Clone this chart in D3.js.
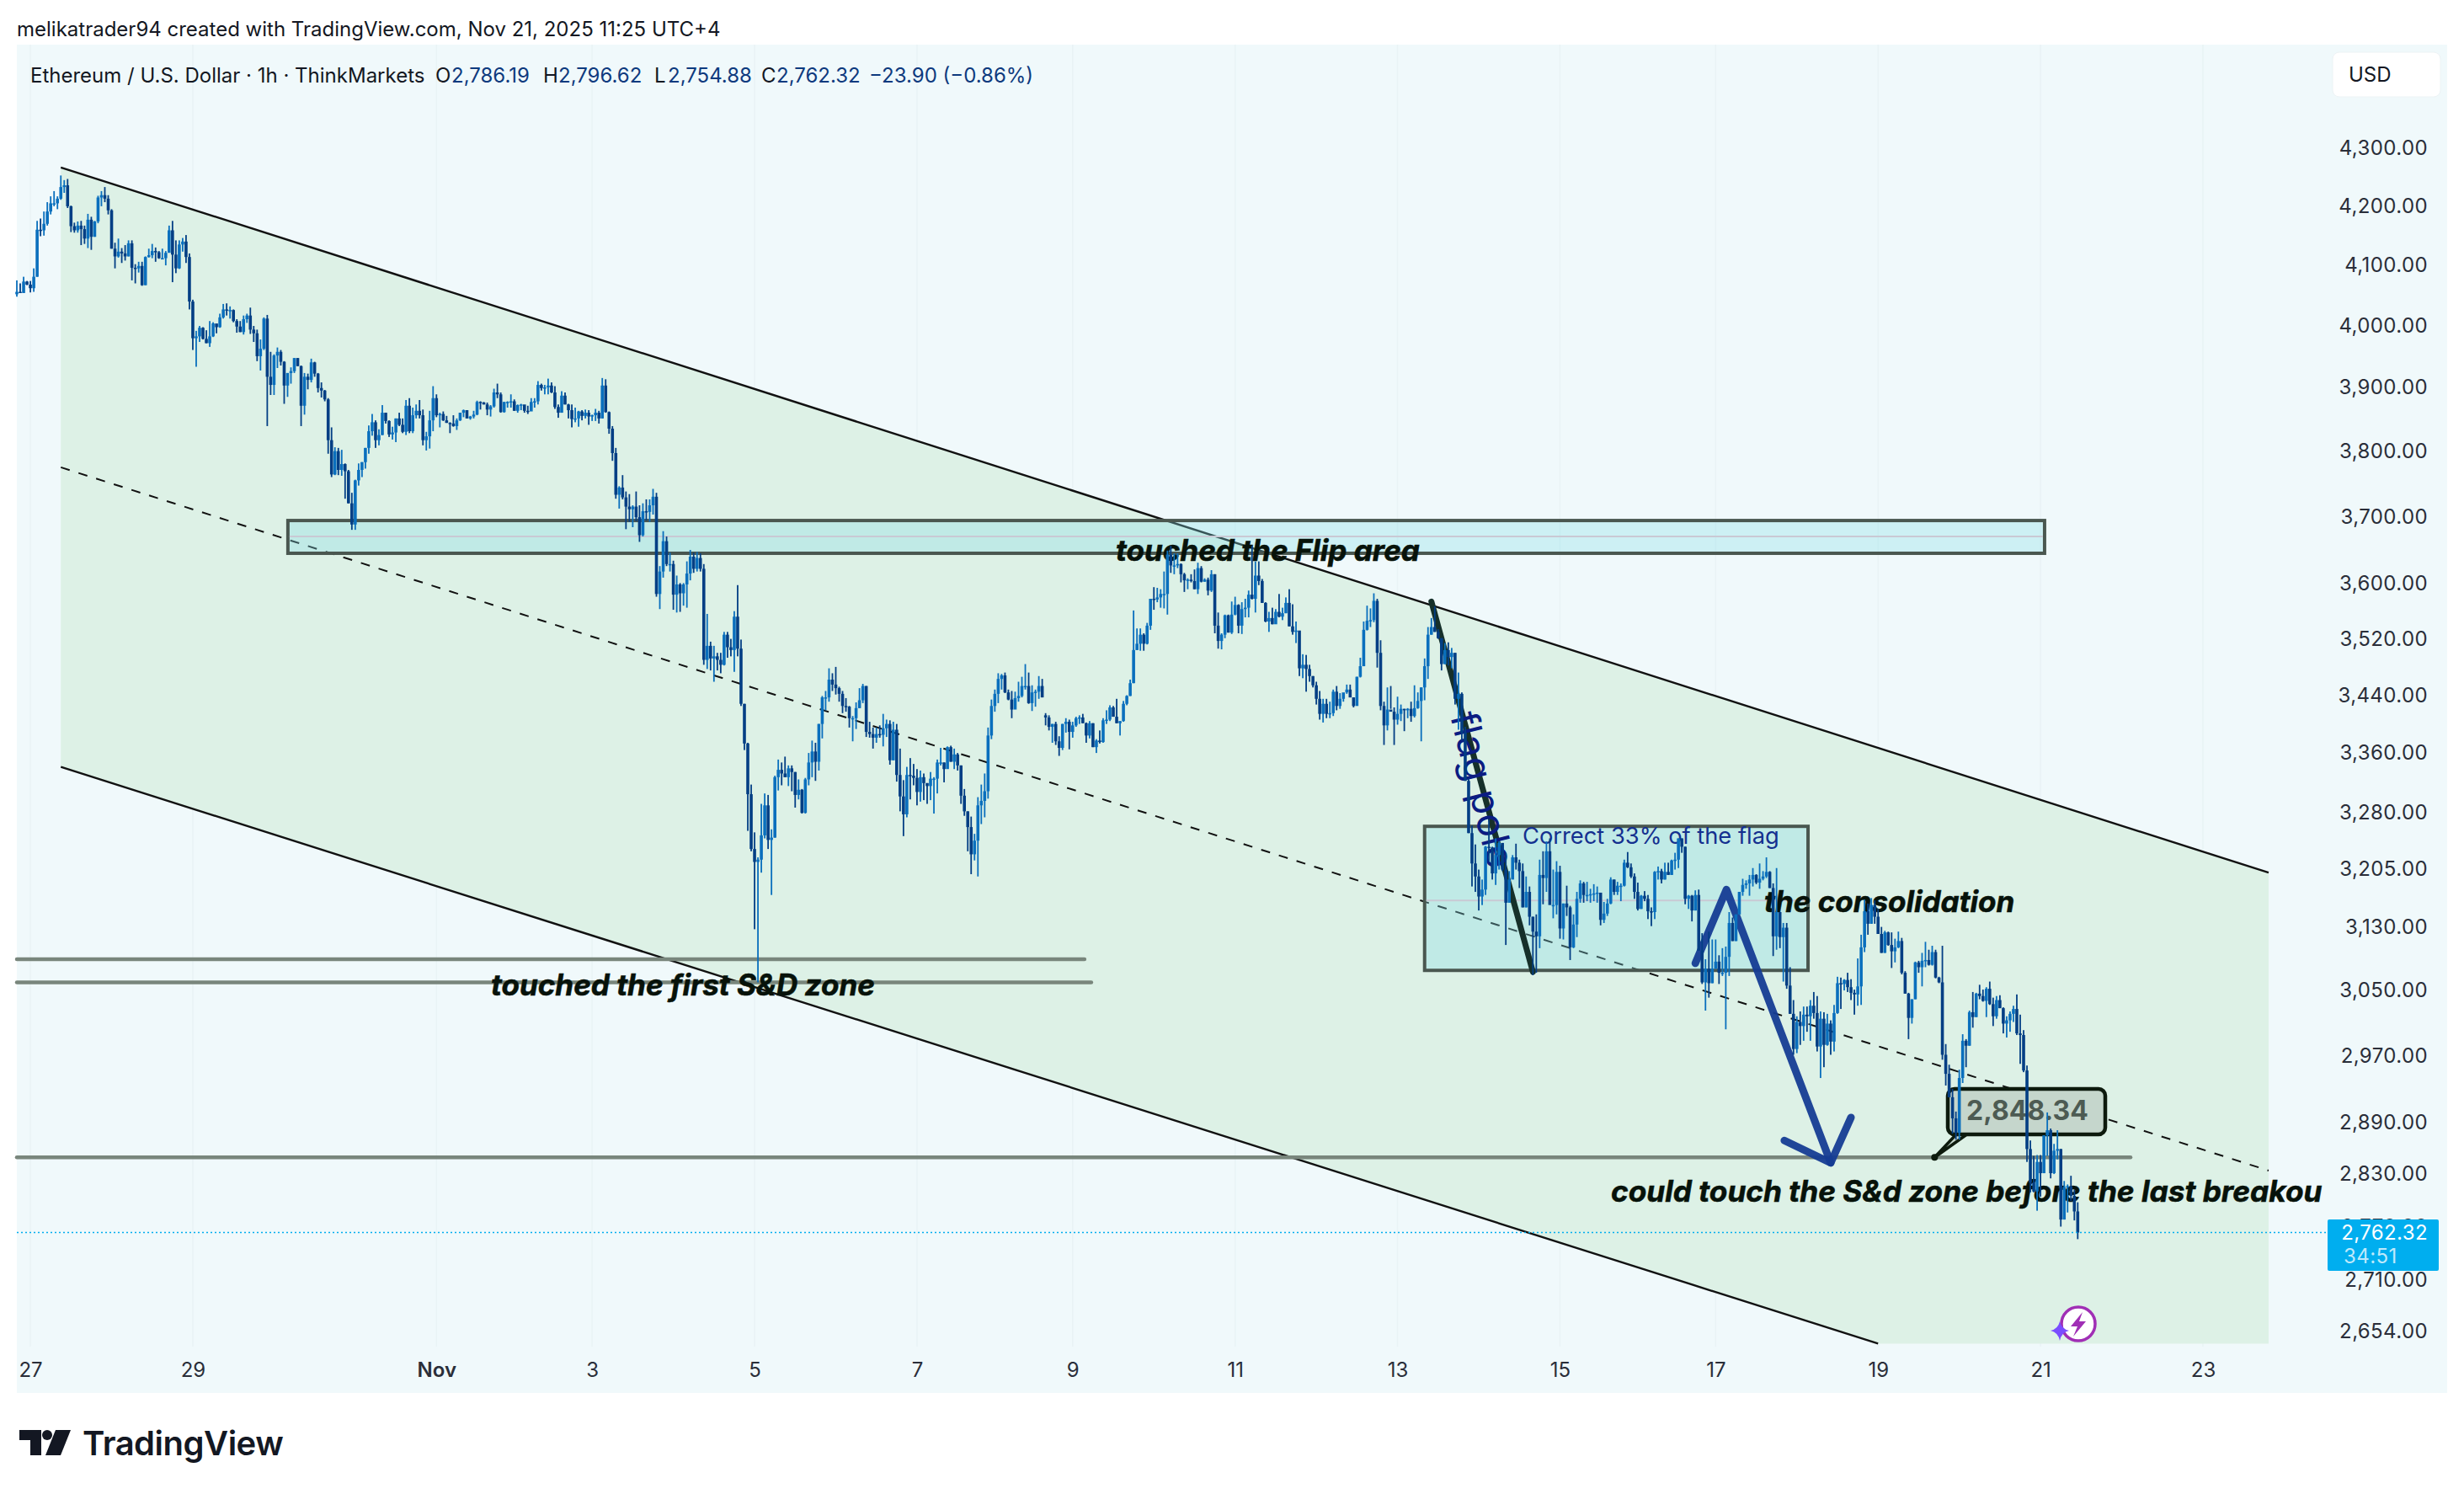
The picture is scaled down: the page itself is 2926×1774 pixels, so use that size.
<!DOCTYPE html>
<html>
<head>
<meta charset="utf-8">
<script src="https://cdn.jsdelivr.net/npm/d3@7"></script>
<style>
html, body { margin: 0; padding: 0; background: #fff; }
svg { display: block; }
text { font-family: Inter, "Noto Sans", sans-serif; }
</style>
</head>
<body>
<svg id="chart" width="2926" height="1774"></svg>
<script>
// ETHUSD 1h, values
const firstOpen = 4050;
const gapOpens = { 304: 3411 }; // weekend gap

const closes = [
4054,4052,4071,4066,4060,4079,4158,4157,4168,4189,4203,4203,4211,4231,4234,4198,4164,4157,4165,4159,
4143,4175,4146,4172,4213,4217,4211,4191,4126,4113,4121,4118,4113,4135,4094,4093,4097,4065,4112,4115,
4122,4120,4110,4110,4119,4157,4116,4093,4133,4138,4112,4038,3978,3981,3995,3977,3970,3981,4002,3996,
4012,4025,4024,4024,4006,3997,3988,4009,4015,3992,3986,3949,3961,4010,3916,3903,3950,3956,3940,3902,
3922,3925,3946,3933,3870,3916,3911,3939,3921,3898,3894,3880,3816,3763,3799,3770,3779,3768,3719,3687,
3754,3770,3782,3804,3830,3844,3816,3824,3859,3846,3825,3828,3850,3840,3829,3870,3830,3855,3862,3855,
3816,3822,3847,3882,3855,3857,3847,3843,3842,3838,3847,3859,3863,3850,3853,3856,3876,3875,3872,3864,
3869,3891,3888,3860,3876,3876,3877,3862,3871,3872,3862,3861,3876,3877,3903,3898,3899,3902,3891,3868,
3859,3886,3872,3863,3849,3850,3861,3854,3859,3853,3855,3859,3850,3902,3860,3834,3796,3732,3743,3728,
3714,3710,3714,3698,3671,3707,3706,3716,3729,3584,3617,3662,3628,3628,3583,3598,3585,3598,3614,3639,
3621,3637,3621,3489,3509,3491,3494,3489,3482,3525,3507,3503,3551,3505,3427,3372,3303,3230,3213,3216,
3248,3288,3242,3245,3326,3336,3331,3326,3338,3333,3302,3309,3278,3323,3346,3361,3347,3399,3436,3436,
3461,3454,3449,3441,3424,3423,3407,3407,3421,3432,3452,3388,3385,3380,3385,3384,3393,3399,3349,3391,
3329,3300,3276,3329,3328,3325,3306,3326,3318,3314,3324,3324,3346,3346,3337,3367,3347,3357,3342,3301,
3280,3259,3223,3241,3288,3294,3307,3383,3424,3441,3462,3467,3443,3433,3419,3435,3438,3452,3452,3428,
3443,3444,3452,3436,3408,3395,3399,3375,3366,3399,3402,3388,3397,3407,3408,3400,3383,3400,3367,3376,
3374,3404,3405,3422,3409,3400,3403,3427,3438,3456,3503,3512,3525,3512,3538,3577,3576,3579,3584,3584,
3642,3626,3626,3628,3613,3604,3605,3603,3591,3622,3602,3605,3589,3613,3538,3516,3525,3553,3528,3554,
3568,3538,3562,3564,3583,3577,3611,3603,3571,3544,3549,3540,3558,3551,3556,3571,3537,3529,3531,3477,
3482,3476,3466,3453,3434,3413,3427,3413,3414,3444,3424,3434,3443,3447,3436,3424,3465,3480,3532,3545,
3546,3574,3499,3424,3397,3419,3416,3405,3413,3420,3418,3420,3410,3421,3431,3450,3480,3525,3536,3529,
3520,3483,3503,3493,3499,3434,3441,3387,3321,3251,3211,3194,3168,3177,3233,3232,3198,3222,3238,3203,
3160,3190,3219,3212,3201,3154,3174,3142,3123,3117,3196,3192,3227,3157,3157,3200,3127,3159,3154,3103,
3132,3165,3185,3170,3170,3171,3172,3173,3138,3146,3159,3190,3174,3182,3182,3212,3206,3194,3174,3152,
3169,3165,3149,3148,3200,3201,3190,3200,3196,3215,3216,3244,3233,3165,3169,3150,3170,3099,3059,3076,
3058,3076,3085,3071,3071,3091,3134,3111,3145,3174,3183,3185,3190,3196,3186,3191,3194,3200,3179,3117,
3148,3116,3128,3055,3020,2977,3010,3005,3019,3017,3030,3021,2980,3014,2982,3008,2986,3021,3058,3057,
3062,3053,3046,3044,3054,3103,3149,3133,3157,3142,3120,3096,3122,3106,3098,3103,3111,3071,3045,3015,
3038,3084,3078,3086,3087,3081,3097,3065,3059,2970,2947,2919,2894,2877,2942,2987,2981,3022,3016,3045,
3042,3036,3051,3032,3017,3037,3027,3008,3012,3020,3026,2996,2994,2951,2858,2819,2809,2843,2830,2874,
2880,2830,2856,2858,2777,2814,2815,2804,2786.19,2762.32
];

const highs = [
4073,4068,4079,4072,4072,4093,4173,4177,4189,4205,4215,4224,4215,4251,4243,4245,4199,4170,4172,4173,
4165,4185,4180,4173,4216,4224,4231,4217,4193,4136,4143,4127,4132,4140,4140,4100,4104,4104,4113,4126,
4134,4128,4122,4126,4122,4165,4173,4140,4140,4144,4149,4118,4041,3990,3998,3996,3991,4006,4004,4001,
4018,4034,4035,4030,4025,4009,4006,4015,4018,4028,3998,3992,3976,4012,4016,3956,3952,3963,3959,3941,
3922,3931,3946,3946,3934,3922,3921,3945,3940,3922,3907,3895,3882,3836,3805,3804,3801,3780,3770,3735,
3755,3780,3782,3804,3839,3857,3847,3833,3871,3859,3847,3837,3850,3859,3850,3879,3882,3867,3872,3879,
3864,3829,3862,3901,3888,3859,3861,3854,3844,3855,3850,3859,3864,3863,3854,3862,3878,3877,3876,3875,
3871,3897,3905,3891,3876,3877,3888,3880,3872,3873,3870,3870,3882,3882,3909,3905,3903,3913,3907,3901,
3872,3893,3891,3873,3872,3867,3862,3863,3864,3863,3856,3865,3862,3914,3912,3861,3838,3804,3745,3762,
3737,3733,3716,3737,3716,3719,3725,3725,3741,3735,3625,3677,3669,3645,3633,3611,3600,3600,3632,3649,
3645,3646,3644,3628,3555,3515,3509,3499,3499,3529,3529,3519,3559,3597,3518,3427,3373,3316,3252,3219,
3290,3304,3302,3256,3328,3350,3346,3354,3342,3342,3333,3323,3310,3325,3359,3376,3373,3399,3438,3445,
3477,3470,3479,3451,3445,3435,3424,3410,3429,3449,3455,3452,3402,3394,3394,3397,3413,3405,3404,3402,
3399,3365,3322,3340,3352,3344,3337,3335,3331,3318,3333,3326,3350,3366,3346,3368,3369,3365,3359,3342,
3310,3280,3273,3250,3299,3316,3331,3394,3433,3447,3470,3469,3471,3447,3445,3444,3458,3465,3483,3471,
3453,3447,3466,3462,3414,3411,3399,3402,3382,3399,3407,3405,3402,3409,3411,3413,3401,3403,3400,3378,
3390,3407,3418,3425,3424,3434,3403,3431,3439,3461,3560,3534,3534,3527,3542,3577,3594,3593,3591,3617,
3648,3655,3644,3644,3629,3615,3607,3613,3620,3630,3625,3607,3608,3619,3613,3557,3527,3554,3554,3573,
3580,3569,3572,3577,3589,3655,3632,3632,3606,3572,3558,3564,3562,3584,3564,3579,3591,3569,3544,3527,
3497,3496,3482,3466,3458,3445,3434,3434,3430,3447,3452,3442,3442,3454,3454,3436,3465,3492,3544,3567,
3563,3585,3577,3517,3430,3450,3452,3422,3437,3426,3420,3421,3430,3453,3443,3450,3491,3536,3549,3566,
3533,3520,3513,3514,3506,3499,3471,3443,3395,3324,3261,3236,3203,3190,3234,3269,3233,3244,3240,3236,
3225,3201,3222,3237,3216,3211,3194,3181,3142,3145,3216,3227,3240,3244,3203,3214,3208,3159,3182,3156,
3145,3174,3189,3187,3187,3178,3184,3181,3172,3161,3165,3193,3190,3187,3185,3216,3226,3211,3198,3186,
3170,3175,3170,3154,3201,3207,3204,3212,3212,3216,3225,3244,3244,3233,3170,3170,3176,3177,3121,3088,
3123,3113,3113,3093,3102,3104,3148,3141,3145,3174,3191,3189,3196,3205,3197,3211,3201,3219,3201,3185,
3205,3148,3134,3134,3078,3037,3017,3023,3029,3029,3037,3047,3042,3023,3022,3020,3012,3031,3066,3065,
3063,3071,3063,3050,3089,3119,3164,3159,3166,3163,3152,3129,3124,3123,3122,3114,3123,3115,3073,3046,
3038,3085,3086,3096,3110,3100,3105,3100,3066,3105,2983,2958,2929,2902,2952,2995,2989,3024,3047,3046,
3056,3050,3053,3060,3040,3042,3043,3028,3017,3023,3030,3044,3019,3000,2957,2868,2850,2851,2851,2874,
2901,2882,2864,2880,2858,2821,2817,2827,2811,2796.62
];

const lows = [
4046,4052,4058,4065,4053,4054,4079,4147,4148,4165,4184,4198,4193,4209,4221,4195,4154,4153,4153,4132,
4134,4127,4124,4146,4169,4198,4205,4184,4126,4093,4111,4102,4106,4113,4073,4068,4086,4064,4065,4111,
4110,4104,4109,4109,4098,4120,4070,4085,4092,4121,4102,4025,3959,3932,3972,3976,3970,3964,3980,3986,
3995,4010,4015,4010,4004,3987,3988,3984,4003,3985,3972,3941,3926,3959,3838,3887,3887,3930,3934,3873,
3884,3905,3922,3933,3838,3856,3896,3907,3916,3891,3883,3877,3795,3759,3762,3762,3761,3726,3719,3679,
3679,3746,3759,3772,3795,3823,3804,3808,3824,3842,3821,3817,3813,3838,3827,3824,3827,3827,3850,3850,
3808,3800,3803,3830,3852,3836,3846,3843,3827,3837,3832,3846,3852,3850,3848,3850,3855,3864,3872,3855,
3853,3867,3882,3859,3859,3867,3867,3862,3859,3863,3859,3857,3862,3867,3872,3894,3888,3888,3890,3865,
3851,3859,3872,3850,3836,3844,3837,3847,3850,3840,3846,3846,3842,3850,3859,3826,3784,3726,3711,3725,
3680,3691,3683,3692,3661,3669,3693,3691,3702,3580,3562,3608,3625,3617,3561,3557,3558,3567,3564,3604,
3615,3617,3617,3482,3476,3474,3458,3474,3470,3481,3492,3494,3472,3494,3424,3363,3254,3227,3126,3059,
3199,3244,3230,3170,3245,3308,3315,3326,3314,3307,3285,3296,3277,3277,3315,3326,3321,3335,3379,3418,
3430,3445,3440,3430,3414,3416,3394,3375,3392,3421,3428,3381,3380,3365,3373,3380,3368,3381,3343,3349,
3320,3280,3247,3272,3296,3315,3288,3293,3295,3290,3295,3277,3304,3342,3319,3338,3347,3337,3335,3290,
3274,3227,3197,3215,3194,3263,3272,3297,3378,3416,3428,3447,3442,3432,3407,3420,3430,3436,3447,3427,
3417,3423,3434,3436,3397,3390,3373,3370,3355,3363,3387,3364,3380,3395,3399,3400,3373,3379,3367,3359,
3372,3373,3399,3403,3409,3400,3383,3402,3425,3438,3456,3503,3502,3502,3511,3532,3561,3572,3564,3563,
3554,3615,3613,3622,3601,3587,3591,3601,3591,3584,3601,3602,3582,3587,3527,3505,3504,3520,3528,3526,
3553,3527,3526,3550,3550,3576,3557,3597,3571,3543,3529,3540,3541,3550,3546,3556,3537,3525,3513,3466,
3463,3444,3458,3450,3426,3405,3401,3407,3407,3410,3418,3420,3430,3441,3436,3422,3426,3464,3480,3531,
3536,3543,3478,3418,3370,3390,3420,3370,3398,3403,3389,3407,3402,3408,3420,3375,3432,3462,3525,3529,
3519,3474,3483,3481,3477,3426,3391,3376,3321,3251,3181,3174,3150,3157,3170,3214,3190,3183,3203,3201,
3106,3160,3192,3203,3179,3154,3154,3131,3068,3071,3102,3158,3174,3160,3140,3145,3114,3113,3143,3087,
3102,3116,3160,3160,3162,3160,3162,3160,3131,3134,3143,3158,3170,3170,3162,3181,3205,3192,3165,3150,
3152,3162,3139,3130,3139,3190,3185,3190,3196,3196,3203,3205,3225,3158,3152,3136,3150,3099,3057,3024,
3040,3058,3076,3057,3067,3001,3067,3111,3111,3145,3169,3178,3169,3181,3184,3178,3189,3192,3179,3092,
3100,3102,3060,3051,3020,2970,2972,2982,2987,2998,2987,3014,2974,2942,2955,2981,2970,2974,3020,3026,
3049,3047,3037,3019,3030,3031,3097,3119,3133,3133,3120,3096,3096,3105,3077,3084,3102,3069,3045,2989,
3008,3038,3071,3054,3078,3080,3080,3064,3058,2964,2933,2919,2876,2869,2869,2936,2955,2981,3003,3016,
3038,3035,3016,3031,3005,3014,3027,2996,2991,2998,3010,2994,2959,2949,2843,2808,2808,2787,2803,2830,
2850,2824,2829,2846,2769,2777,2785,2798,2776,2754.88
];

// axis ticks
const priceTicks = [4300,4200,4100,4000,3900,3800,3700,3600,3520,3440,3360,3280,3205,3130,3050,2970,2890,2830,2770,2710,2654];
const dayTicks = [4,52,124,170,218,266,312,360,408,456,502,550,598,646];
const dayLabels = ['27','29','Nov','3','5','7','9','11','13','15','17','19','21','23'];

// drawings, [bar index, price]
const channelTop = [[13,4265],[665.4,3199]];
const channelMid = [[13,3774],[665.4,2833]];
const channelLow = [[13,3340],[550,2640]];
const channelFill = [[13,4265],[665.4,3199],[665.4,2640],[550,2640],[13,3340]];
const zoneBoxes = [
  { from: 80.1, to: 599.2, top: 3693, bottom: 3644, mid: 3669 },
  { from: 416, to: 529.3, top: 3260, bottom: 3074, mid: 3163 }
];
const levels = [[0,315.5,3088],[0,317.5,3059],[0,624.6,2848.34]];
const flagPole = [[418,3573],[448,3072]];
const arrowPath = [[496,3083],[505.2,3177],[536,2842]];
const arrowHead = [[522.3,2868],[536,2842],[542,2895]];

const lastPrice = 2762.32;

const svg = d3.select('#chart');
const paneLeft = 20, paneRight = 2906, paneTop = 53, paneBottom = 1654;

const x = d3.scaleLinear().domain([0, 646]).range([20, 2616]);
const y = d3.scaleLog().domain([4300, 2654]).range([175, 1580]);
const line = d3.line().x(d => x(d[0])).y(d => y(d[1]));

svg.append('rect').attr('x', paneLeft).attr('y', paneTop)
  .attr('width', paneRight - paneLeft).attr('height', paneBottom - paneTop).attr('fill', '#f0f9fb');

// faint day grid
svg.append('g').selectAll('line').data(dayTicks).join('line')
  .attr('x1', d => x(d)).attr('x2', d => x(d))
  .attr('y1', paneTop).attr('y2', 1599)
  .attr('stroke', '#e9f3f5').attr('stroke-width', 1.5);

// channel
svg.append('path').attr('d', line(channelFill) + 'Z').attr('fill', '#ddf1e6');
svg.append('path').attr('d', line(channelTop)).attr('stroke', '#111').attr('stroke-width', 2.4).attr('fill', 'none');
svg.append('path').attr('d', line(channelLow)).attr('stroke', '#111').attr('stroke-width', 2.4).attr('fill', 'none');
svg.append('path').attr('d', line(channelMid)).attr('stroke', '#111').attr('stroke-width', 2)
  .attr('stroke-dasharray', '11 11').attr('fill', 'none');

// support levels
svg.append('g').selectAll('line').data(levels).join('line')
  .attr('x1', d => x(d[0])).attr('x2', d => x(d[1]))
  .attr('y1', d => y(d[2])).attr('y2', d => y(d[2]))
  .attr('stroke', '#79867c').attr('stroke-width', 4.5).attr('stroke-linecap', 'round');

// boxes
const boxes = svg.append('g').selectAll('g').data(zoneBoxes).join('g');
boxes.append('rect')
  .attr('x', d => x(d.from)).attr('width', d => x(d.to) - x(d.from))
  .attr('y', d => y(d.top)).attr('height', d => y(d.bottom) - y(d.top))
  .attr('fill', '#86dfe6').attr('fill-opacity', 0.33)
  .attr('stroke', '#4a5750').attr('stroke-width', 4);
boxes.append('line')
  .attr('x1', d => x(d.from) + 2).attr('x2', d => x(d.to) - 2)
  .attr('y1', d => y(d.mid)).attr('y2', d => y(d.mid))
  .attr('stroke', '#c9c9d4').attr('stroke-width', 2);

// flag pole and the path arrow
svg.append('path').attr('d', line(flagPole)).attr('stroke', '#16302a').attr('stroke-width', 7)
  .attr('stroke-linecap', 'round').attr('fill', 'none');
svg.append('path').attr('d', line(arrowPath)).attr('stroke', '#153c94').attr('stroke-width', 9)
  .attr('stroke-linecap', 'round').attr('stroke-linejoin', 'round').attr('fill', 'none').attr('opacity', 0.95);
svg.append('path').attr('d', line(arrowHead)).attr('stroke', '#153c94').attr('stroke-width', 9)
  .attr('stroke-linecap', 'round').attr('stroke-linejoin', 'round').attr('fill', 'none').attr('opacity', 0.95);

// callout on the lower level
const tailX = x(566.7), tailY = y(2848.34);
svg.append('path').attr('d', `M${tailX},${tailY}L2323,1347L2337,1346Z`)
  .attr('fill', '#c5d6cc').attr('stroke', '#0d1a0d').attr('stroke-width', 3.5).attr('stroke-linejoin', 'round');
svg.append('rect').attr('x', 2313).attr('y', 1293).attr('width', 187).attr('height', 54).attr('rx', 8)
  .attr('fill', '#c5d6cc').attr('stroke', '#0d1a0d').attr('stroke-width', 4.5);
svg.append('circle').attr('cx', tailX).attr('cy', tailY).attr('r', 4).attr('fill', '#0d1a0d');
svg.append('text').attr('x', 2335).attr('y', 1330).text('2,848.34')
  .attr('font-size', 32).attr('font-weight', 700).attr('fill', '#4d5b53');

// notes
const notes = [
  ['touched the Flip area', 1325, 666, 35],
  ['touched the first S&D zone', 583, 1182, 35],
  ['the consolidation', 2095, 1083, 35],
  ['could touch the S&d zone before the last breakou', 1913, 1427, 35.2]
];
svg.append('g').selectAll('text').data(notes).join('text')
  .attr('x', d => d[1]).attr('y', d => d[2]).attr('font-size', d => d[3])
  .attr('font-weight', 700).attr('font-style', 'italic').attr('fill', '#07120a')
  .attr('stroke', '#07120a').attr('stroke-width', 0.6).text(d => d[0]);

svg.append('text').attr('x', 1808).attr('y', 1002).text('Correct 33% of the flag')
  .attr('font-size', 27.3).attr('fill', '#14308f');
svg.append('text').attr('transform', 'translate(1722,850) rotate(76)').text('flag pole')
  .attr('font-size', 46).attr('fill', '#0b1c82');

// candles
const bars = closes.map((c, i) => {
  const open = gapOpens[i] || (i === 0 ? firstOpen : closes[i - 1]);
  return { i, open, close: c, high: highs[i], low: lows[i] };
});
const upColor = '#0a6fbd', downColor = '#033e84';
const candle = svg.append('g').selectAll('g').data(bars).join('g')
  .attr('fill', d => d.close >= d.open ? upColor : downColor);
candle.append('rect')
  .attr('x', d => x(d.i) - 0.9).attr('width', 1.8)
  .attr('y', d => y(d.high)).attr('height', d => Math.max(1, y(d.low) - y(d.high)));
candle.append('rect')
  .attr('x', d => x(d.i) - 1.8).attr('width', 3.6)
  .attr('y', d => y(Math.max(d.open, d.close)))
  .attr('height', d => Math.max(1.5, Math.abs(y(d.open) - y(d.close))));

// last price line
svg.append('line').attr('x1', paneLeft).attr('x2', 2764)
  .attr('y1', y(lastPrice)).attr('y2', y(lastPrice))
  .attr('stroke', '#00aeef').attr('stroke-width', 1.6).attr('stroke-dasharray', '2 3');

// axes
const yAxis = d3.axisRight(y).tickValues(priceTicks).tickFormat(d3.format(',.2f')).tickSize(0);
const yG = svg.append('g').call(yAxis);
yG.select('.domain').remove();
yG.selectAll('text').attr('x', 2883).attr('dy', '0.36em').attr('text-anchor', 'end')
  .attr('font-size', 24).attr('letter-spacing', 0.4).attr('fill', '#2a2e39')
  .style('font-family', 'Inter, sans-serif');

const xAxis = d3.axisBottom(x).tickValues(dayTicks).tickFormat((d, i) => dayLabels[i]).tickSize(0);
const xG = svg.append('g').attr('transform', 'translate(0,1610)').call(xAxis);
xG.select('.domain').remove();
xG.selectAll('text').attr('y', 25).attr('dy', 0).attr('font-size', 24).attr('fill', '#2a2e39')
  .style('font-family', 'Inter, sans-serif')
  .attr('font-weight', (d, i) => dayLabels[i] === 'Nov' ? 600 : 400);

// last price tag
svg.append('rect').attr('x', 2764).attr('y', 1448).attr('width', 132).attr('height', 61).attr('rx', 2).attr('fill', '#00aeef');
svg.append('text').attr('x', 2883).attr('y', 1472).attr('text-anchor', 'end').attr('font-size', 24)
  .attr('letter-spacing', 0.4).attr('fill', '#fff').text(d3.format(',.2f')(lastPrice));
svg.append('text').attr('x', 2783).attr('y', 1500).attr('font-size', 24)
  .attr('letter-spacing', 0.4).attr('fill', '#bfe9fb').text('34:51');

// header
svg.append('text').attr('x', 20).attr('y', 43).attr('font-size', 24).attr('fill', '#131722')
  .text('melikatrader94 created with TradingView.com, Nov 21, 2025 11:25 UTC+4');
const legend = [
  ['Ethereum / U.S. Dollar · 1h · ThinkMarkets', 36, '#131722'],
  ['O', 517, '#131722'], ['2,786.19', 536, '#0e3a7e'],
  ['H', 645, '#131722'], ['2,796.62', 663, '#0e3a7e'],
  ['L', 777, '#131722'], ['2,754.88', 793, '#0e3a7e'],
  ['C', 904, '#131722'], ['2,762.32', 922, '#0e3a7e'],
  ['−23.90 (−0.86%)', 1032, '#0e3a7e']
];
svg.append('g').selectAll('text').data(legend).join('text')
  .attr('x', d => d[1]).attr('y', 98).attr('font-size', 24).attr('fill', d => d[2]).text(d => d[0]);

// USD button
svg.append('rect').attr('x', 2770).attr('y', 62).attr('width', 128).attr('height', 53).attr('rx', 8)
  .attr('fill', '#fff').attr('stroke', '#edf3f5');
svg.append('text').attr('x', 2789).attr('y', 97).attr('font-size', 24).attr('fill', '#131722').text('USD');

// lightning badge
svg.append('circle').attr('cx', 2468).attr('cy', 1572).attr('r', 20).attr('fill', '#fff')
  .attr('stroke', '#a02fb5').attr('stroke-width', 3.5);
svg.append('path').attr('d', 'M2473,1558L2459,1575L2467,1575L2462,1587L2477,1569L2469,1569Z').attr('fill', '#a02fb5');
svg.append('path').attr('d', 'M2446,1569Q2448,1578 2457,1580Q2448,1582 2446,1592Q2444,1582 2435,1580Q2444,1578 2446,1569Z').attr('fill', '#7a4dff');

// TradingView logo
const logo = svg.append('g').attr('fill', '#131722');
logo.append('path').attr('d', 'M23,1698H49V1728H36V1710H23Z');
logo.append('circle').attr('cx', 56).attr('cy', 1704).attr('r', 6);
logo.append('path').attr('d', 'M66,1698H84L72,1728H54Z');
svg.append('text').attr('x', 98).attr('y', 1728).attr('font-size', 40).attr('font-weight', 600)
  .attr('letter-spacing', -0.5).attr('fill', '#131722').text('TradingView');
</script>
</body>
</html>
